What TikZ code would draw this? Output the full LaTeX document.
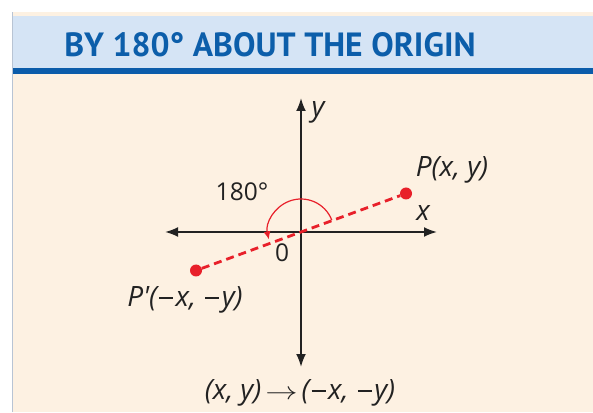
\documentclass[tikz,border=0pt]{standalone}
\usepackage{fontspec}
\setmainfont{PT Sans}
\newfontfamily\lblfont{Open Sans}
\usetikzlibrary{arrows.meta}
\definecolor{cream}{HTML}{FDF1E2}
\definecolor{band}{HTML}{D5E4F5}
\definecolor{rulecol}{HTML}{0B5CAA}
\definecolor{titleblue}{HTML}{0C5EAA}
\definecolor{pred}{HTML}{E8202A}
\definecolor{edgecol}{HTML}{B8C4D4}
\definecolor{ink}{HTML}{222222}
\newcommand{\mns}{\kern2pt\rule[7.5pt]{14pt}{2.4pt}\kern2.5pt}
\newcommand{\longarr}{\kern4pt\scalebox{1.3}[1]{$\rightarrow$}\kern4pt}
\begin{document}
\begin{tikzpicture}[x=1pt,y=1pt,
  axis/.style={ink,line width=2pt,{Latex[length=13pt,width=10pt]}-{Latex[length=13pt,width=10pt]}},
  dot/.style={circle,fill=pred,inner sep=0pt,minimum size=12pt},
  dashline/.style={pred,line width=2.8pt,dash pattern=on 8pt off 5pt},
  arcline/.style={pred,line width=1.2pt,-{Latex[length=8pt,width=7pt]}},
  lbl/.style={ink,font=\lblfont\fontsize{28}{32}\selectfont\itshape,inner sep=0pt},
  num/.style={ink,font=\lblfont\fontsize{24.5}{30}\selectfont,inner sep=0pt},
  title/.style={titleblue,font=\fontsize{33.6}{40}\selectfont\bfseries,inner sep=0pt}]
\useasboundingbox (0,0) rectangle (593,412);
\fill[white] (0,0) rectangle (593,412);
\fill[cream] (12,0) rectangle (593,400);
\fill[band] (12,344) rectangle (593,396);
\fill[rulecol] (12,338) rectangle (593,344);
\draw[edgecol,line width=1pt] (12.5,0) -- (12.5,400);
\node[title] (t) at (270,367) {BY 180° ABOUT THE ORIGIN};

\coordinate (O) at (301,180);
\coordinate (xl) at (165,180);
\coordinate (xr) at (437,180);
\coordinate (yt) at (301,314);
\coordinate (yb) at (301,45);
\draw[axis] (xl) -- (xr);
\draw[axis] (yb) -- (yt);

\node[dot] (P) at (406,218.5) {};
\node[dot] (Pp) at (196,141.5) {};
\draw[dashline] (Pp) -- (P);
\draw[arcline] (O) ++(21:33) arc[start angle=21,end angle=193,radius=33];

\node[lbl] (ylab) at (318,300) {y};
\node[lbl] (xlab) at (423,199) {x};
\node[num] (zero) at (282,159) {0};
\node[num] (ang) at (242,220) {180°};
\node[lbl] (Plab) at (452,242) {P(x, y)};
\node[lbl] (Pplab) at (185,112) {P\textquotesingle(\mns x, \mns y)};
\node[lbl] (rule) at (300,19) {(x, y)\longarr(\mns x, \mns y)};
\end{tikzpicture}
\end{document}
